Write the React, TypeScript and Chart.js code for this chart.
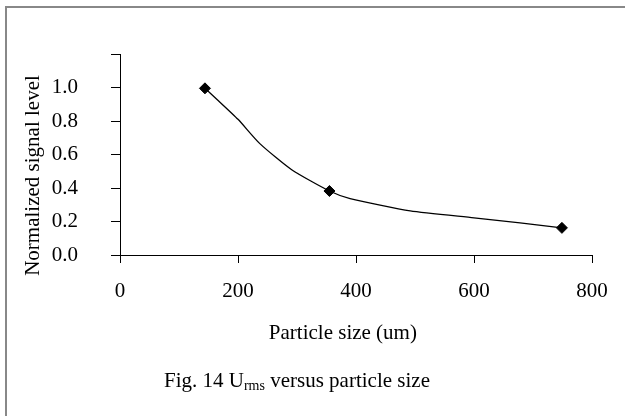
import React, { useEffect, useRef } from "react";
import { Chart, registerables } from "chart.js";

Chart.register(...registerables);

// Measured points (diamond markers)
const measuredSizes = [144, 355, 749];
const measuredLevels = [0.995, 0.382, 0.162];

// Smoothed curve through the measurements
const curveSizes = [144, 164, 200, 237, 291, 355, 390, 492, 600, 678, 749];
const curveLevels = [0.995, 0.93, 0.81, 0.665, 0.509, 0.382, 0.337, 0.263, 0.222, 0.192, 0.162];

const xMin = 0;
const xMax = 800;
const xStep = 200;
const yMin = 0;
const yMax = 1.2;
const yStep = 0.2;
const yLabelMax = 1.0;

// trailing spaces nudge the titles off-centre as in the original figure
const xTitle = "Particle size (um)     ";
const yTitle = "Normalized signal level        ";

const FONT = "'Liberation Serif', 'Times New Roman', serif";

export default function App() {
  const ref = useRef<HTMLCanvasElement | null>(null);

  useEffect(() => {
    if (!ref.current) return;
    const chart = new Chart(ref.current, {
      type: "scatter",
      data: {
        datasets: [
          {
            label: "curve",
            data: curveSizes.map((x, i) => ({ x, y: curveLevels[i] })),
            showLine: true,
            borderColor: "#000",
            borderWidth: 1.3,
            pointRadius: 0,
            tension: 0.2,
          },
          {
            label: "measured",
            data: measuredSizes.map((x, i) => ({ x, y: measuredLevels[i] })),
            showLine: false,
            pointStyle: "rectRot",
            pointRadius: 5.5,
            backgroundColor: "#000",
            borderColor: "#000",
            borderWidth: 1,
          },
        ],
      },
      options: {
        animation: false,
        responsive: false,
        maintainAspectRatio: false,
        layout: { padding: { left: 23.1, top: 54, right: 33, bottom: 71.9 } },
        plugins: { legend: { display: false }, tooltip: { enabled: false } },
        scales: {
          x: {
            type: "linear",
            min: xMin,
            max: xMax,
            afterFit: (s: any) => {
              s.height = 89.1;
            },
            ticks: {
              stepSize: xStep,
              color: "#000",
              padding: 16.3,
              font: { family: FONT, size: 21 },
              maxRotation: 0,
            },
            grid: { drawOnChartArea: false, color: "#000", tickLength: 8 },
            border: { color: "#000", width: 1 },
            title: {
              display: true,
              text: xTitle,
              color: "#000",
              font: { family: FONT, size: 21, lineHeight: 1 },
              padding: 0,
            },
          },
          y: {
            type: "linear",
            min: yMin,
            max: yMax,
            afterFit: (s: any) => {
              s.width = 96.9;
            },
            ticks: {
              stepSize: yStep,
              color: "#000",
              padding: 33,
              font: { family: FONT, size: 21 },
              callback: (v: any) => (Number(v) > yLabelMax + 0.01 ? "" : Number(v).toFixed(1)),
            },
            grid: { drawOnChartArea: false, color: "#000", tickLength: 9 },
            border: { color: "#000", width: 1 },
            title: {
              display: true,
              text: yTitle,
              color: "#000",
              font: { family: FONT, size: 21, lineHeight: 1 },
              padding: 0,
            },
          },
        },
      },
    });
    return () => chart.destroy();
  }, []);

  return (
    <div
      style={{
        position: "absolute",
        left: 0,
        top: 0,
        width: 625,
        height: 416,
        overflow: "hidden",
        background: "#fff",
      }}
    >
      <div
        style={{
          position: "absolute",
          left: 5,
          top: 6,
          width: 700,
          height: 500,
          border: "2px solid #888",
        }}
      />
      <canvas ref={ref} width={625} height={416} style={{ position: "absolute", left: 0, top: 0 }} />
      <div
        style={{
          position: "absolute",
          left: 164,
          top: 370.4,
          fontFamily: FONT,
          fontSize: 21,
          lineHeight: "21px",
          color: "#000",
          whiteSpace: "nowrap",
        }}
      >
        Fig. 14 U
        <span style={{ fontSize: 14, verticalAlign: "-3px", lineHeight: 0 }}>rms</span> versus particle size
      </div>
    </div>
  );
}
